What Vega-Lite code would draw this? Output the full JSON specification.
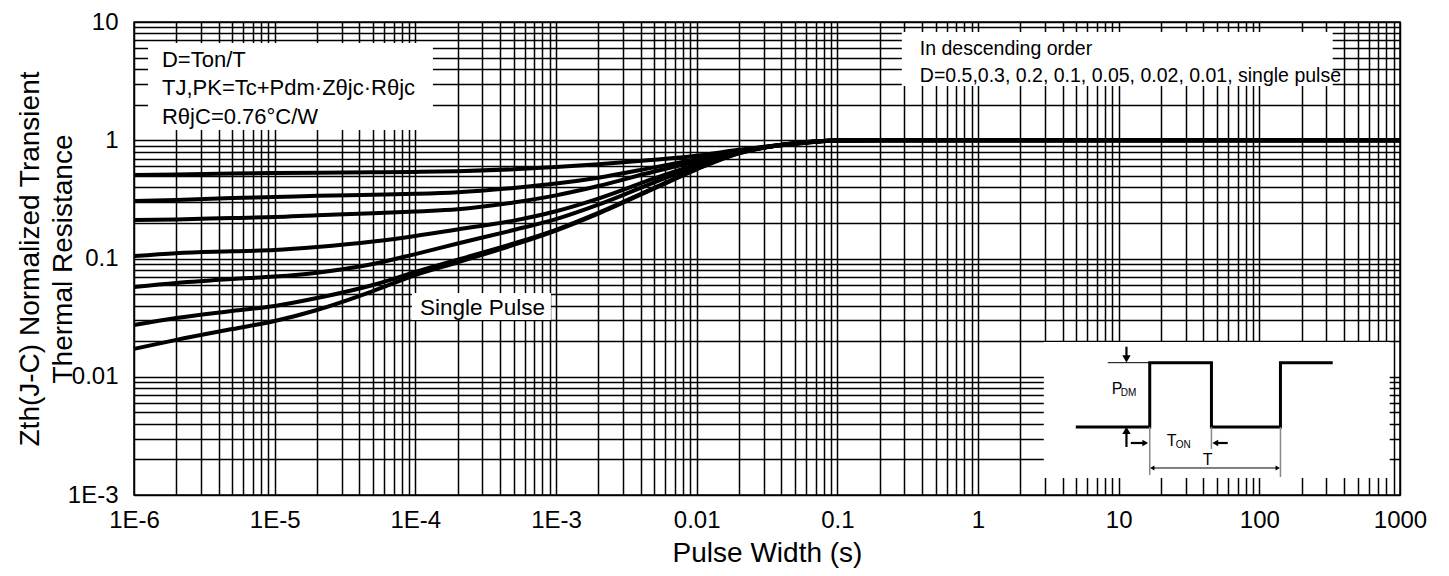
{
"$schema": "https://vega.github.io/schema/vega-lite/v6.json",
"width": 1266,
"height": 473,
"autosize": {"type": "none"},
"padding": {"left": 134, "top": 22, "right": 49, "bottom": 81},
"background": "white",
"config": {
  "font": "Liberation Sans",
  "view": {"stroke": "black", "strokeWidth": 1.5}
},
"datasets": {
  "curves": [
    {"x": 1e-6, "D05": 0.508, "D03": 0.306, "D02": 0.212, "D01": 0.105, "D005": 0.0574, "D002": 0.0274, "S": 0.0172},
    {"x": 2e-6, "D05": 0.513, "D03": 0.312, "D02": 0.214, "D01": 0.111, "D005": 0.0621, "D002": 0.0314, "S": 0.0205},
    {"x": 5e-6, "D05": 0.523, "D03": 0.325, "D02": 0.220, "D01": 0.115, "D005": 0.0671, "D002": 0.0360, "S": 0.0253},
    {"x": 1e-5, "D05": 0.528, "D03": 0.331, "D02": 0.224, "D01": 0.118, "D005": 0.0704, "D002": 0.0397, "S": 0.0296},
    {"x": 2e-5, "D05": 0.532, "D03": 0.339, "D02": 0.232, "D01": 0.125, "D005": 0.0759, "D002": 0.0463, "S": 0.0367},
    {"x": 5e-5, "D05": 0.536, "D03": 0.346, "D02": 0.241, "D01": 0.139, "D005": 0.0898, "D002": 0.0597, "S": 0.0530},
    {"x": 1e-4, "D05": 0.540, "D03": 0.352, "D02": 0.250, "D01": 0.155, "D005": 0.109, "D002": 0.0769, "S": 0.0725},
    {"x": 2e-4, "D05": 0.547, "D03": 0.363, "D02": 0.261, "D01": 0.176, "D005": 0.134, "D002": 0.0977, "S": 0.0929},
    {"x": 5e-4, "D05": 0.569, "D03": 0.395, "D02": 0.298, "D01": 0.209, "D005": 0.174, "D002": 0.1339, "S": 0.1303},
    {"x": 1e-3, "D05": 0.595, "D03": 0.430, "D02": 0.342, "D01": 0.251, "D005": 0.215, "D002": 0.175, "S": 0.1725},
    {"x": 2e-3, "D05": 0.628, "D03": 0.482, "D02": 0.410, "D01": 0.321, "D005": 0.285, "D002": 0.243, "S": 0.2397},
    {"x": 5e-3, "D05": 0.685, "D03": 0.590, "D02": 0.544, "D01": 0.475, "D005": 0.441, "D002": 0.396, "S": 0.3915},
    {"x": 0.01, "D05": 0.740, "D03": 0.690, "D02": 0.664, "D01": 0.624, "D005": 0.603, "D002": 0.572, "S": 0.568},
    {"x": 0.02, "D05": 0.830, "D03": 0.815, "D02": 0.805, "D01": 0.795, "D005": 0.787, "D002": 0.780, "S": 0.777},
    {"x": 0.03, "D05": 0.880, "D03": 0.874, "D02": 0.870, "D01": 0.868, "D005": 0.867, "D002": 0.866, "S": 0.865},
    {"x": 0.05, "D05": 0.948, "D03": 0.945, "D02": 0.942, "D01": 0.939, "D005": 0.937, "D002": 0.931, "S": 0.930},
    {"x": 0.1, "D05": 0.995, "D03": 0.995, "D02": 0.995, "D01": 0.994, "D005": 0.994, "D002": 0.993, "S": 0.993},
    {"x": 0.2, "D05": 1, "D03": 1, "D02": 1, "D01": 1, "D005": 1, "D002": 1, "S": 1},
    {"x": 1, "D05": 1, "D03": 1, "D02": 1, "D01": 1, "D005": 1, "D002": 1, "S": 1},
    {"x": 1000, "D05": 1, "D03": 1, "D02": 1, "D01": 1, "D005": 1, "D002": 1, "S": 1}
  ],
  "boxes": [
    {"x": 1.257e-6, "x2": 1.334e-4, "y": 1.221, "y2": 6.645},
    {"x": 0.2873, "x2": 332.4, "y": 2.875, "y2": 8.231},
    {"x": 9.458e-5, "x2": 9.2e-4, "y": 0.0302, "y2": 0.0511},
    {"x": 2.936, "x2": 845, "y": 0.001392, "y2": 0.01967}
  ],
  "pulse": [
    {"i": 1, "x": 4.956, "y": 0.003759},
    {"i": 2, "x": 16.63, "y": 0.003759},
    {"i": 3, "x": 16.63, "y": 0.01315},
    {"i": 4, "x": 45.66, "y": 0.01315},
    {"i": 5, "x": 45.66, "y": 0.003759},
    {"i": 6, "x": 141.3, "y": 0.003759},
    {"i": 7, "x": 141.3, "y": 0.01315},
    {"i": 8, "x": 332.4, "y": 0.01315}
  ],
  "segs": [
    {"x": 8.368, "x2": 16.63, "y": 0.01315, "y2": 0.01315, "g": "thin"},
    {"x": 17.3, "x2": 135, "y": 0.001692, "y2": 0.001692, "g": "thin"},
    {"x": 11.36, "x2": 11.36, "y": 0.01795, "y2": 0.0143, "g": "arrow"},
    {"x": 11.36, "x2": 11.36, "y": 0.002547, "y2": 0.00352, "g": "arrow"},
    {"x": 12.19, "x2": 15.4, "y": 0.002753, "y2": 0.002753, "g": "arrow"},
    {"x": 59.63, "x2": 48.8, "y": 0.002753, "y2": 0.002753, "g": "arrow"},
    {"x": 16.63, "x2": 16.63, "y": 0.003759, "y2": 0.001476, "g": "gray"},
    {"x": 45.66, "x2": 45.66, "y": 0.003759, "y2": 0.002449, "g": "gray"},
    {"x": 141.3, "x2": 141.3, "y": 0.003759, "y2": 0.00142, "g": "gray"}
  ],
  "heads": [
    {"x": 11.36, "y": 0.01413, "dir": "down", "g": "big"},
    {"x": 11.36, "y": 0.003512, "dir": "up", "g": "big"},
    {"x": 15.46, "y": 0.002753, "dir": "right", "g": "mid"},
    {"x": 48.6, "y": 0.002753, "dir": "left", "g": "mid"},
    {"x": 17.33, "y": 0.001692, "dir": "left", "g": "small"},
    {"x": 135.1, "y": 0.001692, "dir": "right", "g": "small"}
  ],
  "notes": [
    {"label": "D=Ton/T", "x": 1.581e-6, "y": 4.77, "g": "note"},
    {"label": "TJ,PK=Tc+Pdm·Zθjc·Rθjc", "x": 1.581e-6, "y": 2.766, "g": "note"},
    {"label": "RθjC=0.76°C/W", "x": 1.581e-6, "y": 1.573, "g": "note"},
    {"label": "In descending order", "x": 0.3859, "y": 5.911, "g": "legend"},
    {"label": "D=0.5,0.3, 0.2, 0.1, 0.05, 0.02, 0.01, single pulse", "x": 0.3859, "y": 3.494, "g": "legend"},
    {"label": "Single Pulse", "x": 1.078e-4, "y": 0.03815, "g": "tag"},
    {"label": "P", "x": 8.93, "y": 0.007875, "g": "inset"},
    {"label": "DM", "x": 10.35, "y": 0.007288, "g": "sub"},
    {"label": "T", "x": 21.98, "y": 0.002862, "g": "inset"},
    {"label": "ON", "x": 25.45, "y": 0.002648, "g": "sub"},
    {"label": "T", "x": 39.6, "y": 0.001977, "g": "inset"}
  ]
},
"encoding": {
  "x": {"field": "x", "type": "quantitative",
    "scale": {"type": "log", "domain": [0.000001, 1000], "nice": false},
    "axis": {
      "values": [1e-6,2e-6,3e-6,4e-6,5e-6,6e-6,7e-6,8e-6,9e-6,1e-5,2e-5,3e-5,4e-5,5e-5,6e-5,7e-5,8e-5,9e-5,1e-4,2e-4,3e-4,4e-4,5e-4,6e-4,7e-4,8e-4,9e-4,0.001,0.002,0.003,0.004,0.005,0.006,0.007,0.008,0.009,0.01,0.02,0.03,0.04,0.05,0.06,0.07,0.08,0.09,0.1,0.2,0.3,0.4,0.5,0.6,0.7,0.8,0.9,1,2,3,4,5,6,7,8,9,10,20,30,40,50,60,70,80,90,100,200,300,400,500,600,700,800,900,1000],
      "labelExpr": "abs(log(datum.value)/LN10 - round(log(datum.value)/LN10)) < 0.000001 ? (datum.value < 0.01 ? '1E' + round(log(datum.value)/LN10) : format(datum.value, '')) : ''",
      "grid": true, "gridColor": "black", "gridOpacity": 1, "gridWidth": 1.5, "ticks": false, "domain": false,
      "labelFont": "Liberation Sans", "labelFontSize": 24, "labelColor": "black", "labelPadding": 13,
      "labelOverlap": false, "labelBound": false, "labelFlush": false,
      "title": "Pulse Width (s)", "titleY": 58, "titleBaseline": "middle",
      "titleFont": "Liberation Sans", "titleFontSize": 28, "titleFontWeight": "normal", "titleColor": "black"}},
  "y": {"field": "y", "type": "quantitative",
    "scale": {"type": "log", "domain": [0.001, 10], "nice": false},
    "axis": {
      "values": [0.001,0.002,0.003,0.004,0.005,0.006,0.007,0.008,0.009,0.01,0.02,0.03,0.04,0.05,0.06,0.07,0.08,0.09,0.1,0.2,0.3,0.4,0.5,0.6,0.7,0.8,0.9,1,2,3,4,5,6,7,8,9,10],
      "labelExpr": "abs(log(datum.value)/LN10 - round(log(datum.value)/LN10)) < 0.000001 ? (datum.value < 0.01 ? '1E' + round(log(datum.value)/LN10) : format(datum.value, '')) : ''",
      "grid": true, "gridColor": "black", "gridOpacity": 1, "gridWidth": 1.5, "ticks": false, "domain": false,
      "labelFont": "Liberation Sans", "labelFontSize": 24, "labelColor": "black", "labelPadding": 16,
      "labelOverlap": false, "labelBound": false, "labelFlush": false,
      "title": ["Zth(J-C) Normalized Transient", "Thermal Resistance"],
      "titleX": -104, "titleY": 236.5, "titleAngle": -90, "titleAlign": "center", "titleBaseline": "middle", "titleLineHeight": 33,
      "titleFont": "Liberation Sans", "titleFontSize": 28, "titleFontWeight": "normal", "titleColor": "black"}}
},
"layer": [
  {"data": {"name": "boxes"}, "mark": {"type": "rect", "fill": "white", "strokeWidth": 0},
   "encoding": {"x2": {"field": "x2"}, "y2": {"field": "y2"}}},
  {"data": {"name": "curves"},
   "transform": [{"fold": ["D05", "D03", "D02", "D01", "D005", "D002", "S"], "as": ["D", "y"]}],
   "mark": {"type": "line", "color": "black", "strokeWidth": 4, "interpolate": "monotone"},
   "encoding": {"detail": {"field": "D", "type": "nominal"}}},
  {"data": {"name": "pulse"},
   "mark": {"type": "line", "color": "black", "strokeWidth": 3, "strokeJoin": "miter"},
   "encoding": {"order": {"field": "i", "type": "quantitative"}}},
  {"data": {"name": "segs"}, "transform": [{"filter": "datum.g === 'thin'"}],
   "mark": {"type": "rule", "color": "black", "strokeWidth": 1},
   "encoding": {"x2": {"field": "x2"}, "y2": {"field": "y2"}}},
  {"data": {"name": "segs"}, "transform": [{"filter": "datum.g === 'arrow'"}],
   "mark": {"type": "rule", "color": "black", "strokeWidth": 2.2},
   "encoding": {"x2": {"field": "x2"}, "y2": {"field": "y2"}}},
  {"data": {"name": "segs"}, "transform": [{"filter": "datum.g === 'gray'"}],
   "mark": {"type": "rule", "color": "#888888", "strokeWidth": 1.5},
   "encoding": {"x2": {"field": "x2"}, "y2": {"field": "y2"}}},
  {"data": {"name": "heads"}, "transform": [{"filter": "datum.g === 'big'"}],
   "mark": {"type": "point", "filled": true, "color": "black", "opacity": 1, "strokeWidth": 0, "size": 70},
   "encoding": {"shape": {"field": "dir", "type": "nominal", "scale": {"domain": ["up", "down", "left", "right"], "range": ["triangle-up", "triangle-down", "triangle-left", "triangle-right"]}, "legend": null}}},
  {"data": {"name": "heads"}, "transform": [{"filter": "datum.g === 'mid'"}],
   "mark": {"type": "point", "filled": true, "color": "black", "opacity": 1, "strokeWidth": 0, "size": 45},
   "encoding": {"shape": {"field": "dir", "type": "nominal", "scale": {"domain": ["up", "down", "left", "right"], "range": ["triangle-up", "triangle-down", "triangle-left", "triangle-right"]}, "legend": null}}},
  {"data": {"name": "heads"}, "transform": [{"filter": "datum.g === 'small'"}],
   "mark": {"type": "point", "filled": true, "color": "black", "opacity": 1, "strokeWidth": 0, "size": 25},
   "encoding": {"shape": {"field": "dir", "type": "nominal", "scale": {"domain": ["up", "down", "left", "right"], "range": ["triangle-up", "triangle-down", "triangle-left", "triangle-right"]}, "legend": null}}},
  {"data": {"name": "notes"}, "transform": [{"filter": "datum.g === 'note'"}],
   "mark": {"type": "text", "align": "left", "baseline": "middle", "color": "black", "font": "Liberation Sans", "fontSize": 22},
   "encoding": {"text": {"field": "label", "type": "nominal"}}},
  {"data": {"name": "notes"}, "transform": [{"filter": "datum.g === 'legend'"}],
   "mark": {"type": "text", "align": "left", "baseline": "middle", "color": "black", "font": "Liberation Sans", "fontSize": 19.5},
   "encoding": {"text": {"field": "label", "type": "nominal"}}},
  {"data": {"name": "notes"}, "transform": [{"filter": "datum.g === 'tag'"}],
   "mark": {"type": "text", "align": "left", "baseline": "middle", "color": "black", "font": "Liberation Sans", "fontSize": 22.5},
   "encoding": {"text": {"field": "label", "type": "nominal"}}},
  {"data": {"name": "notes"}, "transform": [{"filter": "datum.g === 'inset'"}],
   "mark": {"type": "text", "align": "left", "baseline": "middle", "color": "black", "font": "Liberation Sans", "fontSize": 16},
   "encoding": {"text": {"field": "label", "type": "nominal"}}},
  {"data": {"name": "notes"}, "transform": [{"filter": "datum.g === 'sub'"}],
   "mark": {"type": "text", "align": "left", "baseline": "middle", "color": "black", "font": "Liberation Sans", "fontSize": 10},
   "encoding": {"text": {"field": "label", "type": "nominal"}}}
]
}
